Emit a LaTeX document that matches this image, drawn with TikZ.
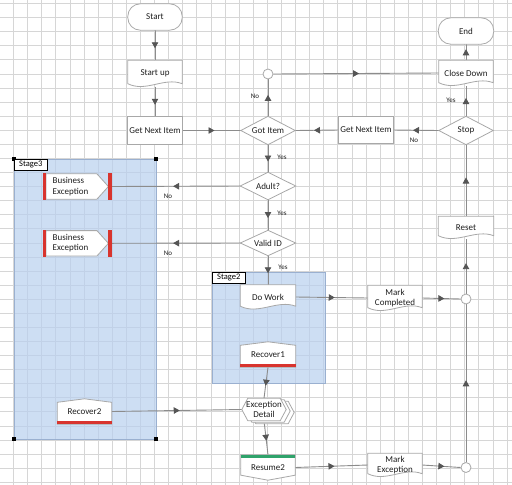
\documentclass[tikz,border=0pt]{standalone}
\usepackage{fontspec}
\setmainfont{Carlito}
\usetikzlibrary{calc,arrows.meta,decorations.markings}
\pgfdeclarelayer{gridl}
\pgfdeclarelayer{stagel}
\pgfdeclarelayer{connl}
\pgfdeclarelayer{shapel}
\pgfsetlayers{gridl,stagel,connl,shapel,main}
\definecolor{gridc}{HTML}{D6D6D6}
\definecolor{connc}{HTML}{8C8C8C}
\definecolor{arrc}{HTML}{555555}
\definecolor{shpc}{HTML}{A8A8A8}
\definecolor{txtc}{HTML}{1E1E1E}
\definecolor{stagec}{HTML}{B9D0EF}
\definecolor{stagebd}{HTML}{9AB0D0}
\definecolor{redc}{HTML}{D8342E}
\definecolor{greenc}{HTML}{2FA36B}
\newcommand\shpTerm[1]{\draw[shp, rounded corners=12.5pt] (#1.north west) rectangle (#1.south east);}
\newcommand\shpRect[1]{\draw[shp] (#1.north west) rectangle (#1.south east);}
\newcommand\shpDia[1]{\draw[shp] (#1.west) -- (#1.north) -- (#1.east) -- (#1.south) -- cycle;}
\newcommand\shpDoc[1]{\draw[shp] ($(#1.south west)+(0,-3)$) -- (#1.north west) -- (#1.north east) -- ($(#1.south east)+(0,-3)$) .. controls ($(#1.south east)!0.333!(#1.south west)+(0,-10)$) and ($(#1.south east)!0.667!(#1.south west)+(0,6)$) .. ($(#1.south west)+(0,-3)$) -- cycle;}
\newcommand\shpUp[1]{\draw[shp] (#1.south west) -- ($(#1.north west)+(0,3.5)$) -- (#1.north) -- ($(#1.north east)+(0,3.5)$) -- (#1.south east) -- cycle;
  \fill[redc] ($(#1.south west)+(0,-3)$) rectangle (#1.south east);}
\newcommand\shpDown[1]{\draw[shp] (#1.north west) -- (#1.north east) -- ($(#1.south east)+(0,-5)$) -- (#1.south) -- ($(#1.south west)+(0,-5)$) -- cycle;
  \fill[greenc] (#1.north west) rectangle ($(#1.north east)+(0,3)$);}
\newcommand\shpBE[1]{\draw[shp] ($(#1.north west)+(3.5,1)$) -- ($(#1.north east)+(-15,1)$) -- ($(#1.east)+(-3.5,0)$) -- ($(#1.south east)+(-15,-1)$) -- ($(#1.south west)+(3.5,-1)$) -- cycle;
  \fill[redc] (#1.north west) rectangle ($(#1.south west)+(3.5,0)$);
  \fill[redc] ($(#1.north east)+(-3.5,0)$) rectangle (#1.south east);}
\newcommand\shpHex[3]{\draw[shp] ($(#1.west)+(#2,#3)$) -- ($(#1.north west)+(#2+6,#3)$) -- ($(#1.north east)+(#2-6,#3)$) -- ($(#1.east)+(#2,#3)$) -- ($(#1.south east)+(#2-6,#3)$) -- ($(#1.south west)+(#2+6,#3)$) -- cycle;}
\begin{document}
\begin{tikzpicture}[x=1pt,y=-1pt,
  nd/.style={inner sep=0pt, align=center, font=\fontsize{9}{10.5}\selectfont, text=txtc},
  shp/.style={draw=shpc, line width=0.8pt, fill=white},
  conn/.style={draw=connc, line width=0.9pt, postaction={decorate},
    decoration={markings, mark=at position 0.5 with {\arrow[xshift=3pt]{Triangle[length=6pt,width=6.5pt,color=arrc]}}}},
  lab/.style={font=\fontsize{7}{8}\selectfont, text=txtc, inner sep=0pt},
  junc/.style={circle, draw=shpc, fill=white, line width=0.8pt, minimum size=10pt, inner sep=0pt},
  stagebox/.style={draw=stagebd, fill=stagec, fill opacity=0.7, line width=0.8pt},
  stagelab/.style={draw=black, fill=white, line width=0.5pt, font=\fontsize{8.5}{9}\selectfont, text=black, minimum width=33pt, minimum height=11pt, inner sep=0pt, anchor=north west}
]
\useasboundingbox (0,0) rectangle (512,485);
% grid
\begin{pgfonlayer}{gridl}
  \fill[white] (0,0) rectangle (512,485);
  \foreach \i in {0,...,35} \draw[gridc, line width=0.7pt] (13.5+14.1*\i,0) -- ++(0,485);
  \foreach \j in {0,...,34} \draw[gridc, line width=0.7pt] (0,3.5+14.08*\j) -- ++(512,0);
\end{pgfonlayer}
% stages
\begin{pgfonlayer}{stagel}
  \draw[stagebox] (14,159) rectangle (156,439);
  \draw[stagebox] (212,272) rectangle (325,383);
  \foreach \p in {(14,159),(156,159),(14,439),(156,439)} \fill[black] \p ++(-1.7,-1.7) rectangle ++(3.4,3.4);
\end{pgfonlayer}
\node[stagelab] (s3lab) at (14,159) {Stage3};
\node[stagelab] (s2lab) at (212,272) {Stage2};
% nodes
\node[nd, minimum width=54pt, minimum height=26pt] (start) at (155,17) {Start};
\node[nd, minimum width=54pt, minimum height=26pt] (startup) at (155,73.5) {Start up};
\node[nd, minimum width=54pt, minimum height=27pt] (gni1) at (155,130.5) {Get Next Item};
\node[nd, minimum width=54pt, minimum height=28pt] (gotitem) at (268,130.5) {Got Item};
\node[junc] (circ1) at (268,74) {};
\node[nd, minimum width=54pt, minimum height=25pt] (closedown) at (466,73) {Close Down};
\node[nd, minimum width=55pt, minimum height=26pt] (endn) at (466,31) {End};
\node[nd, minimum width=54pt, minimum height=28pt] (stop) at (466,130.5) {Stop};
\node[nd, minimum width=54pt, minimum height=26pt] (gni2) at (366,130) {Get Next Item};
\node[nd, minimum width=55pt, minimum height=27pt] (adult) at (268,186) {Adult?};
\node[nd, minimum width=55pt, minimum height=25pt] (validid) at (268,243) {Valid ID};
\node[nd, text width=49pt, align=left, inner xsep=10pt, minimum height=27pt] (be1) at (77.2,186.5) {Business\\Exception};
\node[nd, text width=49pt, align=left, inner xsep=10pt, minimum height=27pt] (be2) at (77.2,243.3) {Business\\Exception};
\node[nd, minimum width=55pt, minimum height=24pt] (dowork) at (268,297) {Do Work};
\node[nd, minimum width=54pt, minimum height=25pt] (markcomp) at (395,298) {Mark\\Completed};
\node[junc] (circ2) at (466,299) {};
\node[nd, minimum width=55pt, minimum height=22pt] (reset) at (466,227.5) {Reset};
\node[nd, minimum width=55pt, minimum height=25pt] (recover1) at (268,354.5) {Recover1};
\node[nd, minimum width=44pt, minimum height=22pt] (excdet) at (264,409.5) {Exception\\Detail};
\node[nd, minimum width=54pt, minimum height=25pt] (recover2) at (84.5,411.5) {Recover2};
\node[nd, minimum width=54pt, minimum height=25pt] (resume2) at (268,467.5) {Resume2};
\node[nd, minimum width=54pt, minimum height=23pt] (markexc) at (395,465) {Mark\\Exception};
\node[junc] (circ3) at (466,467.5) {};
% shapes
\begin{pgfonlayer}{shapel}
  \shpTerm{start}
  \shpDoc{startup}
  \shpRect{gni1}
  \shpDia{gotitem}
  \shpDoc{closedown}
  \shpTerm{endn}
  \shpDia{stop}
  \shpRect{gni2}
  \shpDia{adult}
  \shpDia{validid}
  \shpBE{be1}
  \shpBE{be2}
  \shpDoc{dowork}
  \shpDoc{markcomp}
  \shpDoc{reset}
  \shpUp{recover1}
  \shpHex{excdet}{8}{3}
  \shpHex{excdet}{4}{1.5}
  \shpHex{excdet}{0}{0}
  \shpUp{recover2}
  \shpDown{resume2}
  \shpDoc{markexc}
\end{pgfonlayer}
% connectors
\begin{pgfonlayer}{connl}
  \draw[conn] (start.south) -- (startup.north);
  \draw[conn] (startup.south) -- (gni1.north);
  \draw[conn] (gni1.east) -- (gotitem.west);
  \draw[conn] (gni2.west) -- (gotitem.east);
  \draw[conn] (stop.west) -- (gni2.east);
  \draw[conn] (gotitem.north) -- (circ1.south);
  \draw[conn] (circ1.east) -- (closedown.west);
  \draw[conn] (stop.north) -- (closedown.south);
  \draw[conn] (closedown.north) -- (endn.south);
  \draw[conn] (gotitem.south) -- (adult.north);
  \draw[conn] (adult.west) -- (be1.east);
  \draw[conn] (adult.south) -- (validid.north);
  \draw[conn] (validid.west) -- (be2.east);
  \draw[conn] (validid.south) -- (dowork.north);
  \draw[conn] (dowork.east) -- (markcomp.west);
  \draw[conn] (markcomp.east) -- (circ2.west);
  \draw[conn] (circ2.north) -- (reset.south);
  \draw[conn] (reset.north) -- (stop.south);
  \draw[conn] (circ3.north) -- (circ2.south);
  \draw[conn] (recover1.south) -- (excdet.north);
  \draw[conn] (recover2.east) -- (excdet.west);
  \draw[conn] (excdet.south) -- (resume2.north);
  \draw[conn] (resume2.east) -- (markexc.west);
  \draw[conn] (markexc.east) -- (circ3.west);
\end{pgfonlayer}
% labels
\node[lab] (l1) at (255,96.5) {No};
\node[lab] (l2) at (451,100) {Yes};
\node[lab] (l3) at (414,140.5) {No};
\node[lab] (l4) at (282,157) {Yes};
\node[lab] (l5) at (168,196.5) {No};
\node[lab] (l6) at (282,213) {Yes};
\node[lab] (l7) at (168,253) {No};
\node[lab] (l8) at (283,267) {Yes};
\end{tikzpicture}
\end{document}
